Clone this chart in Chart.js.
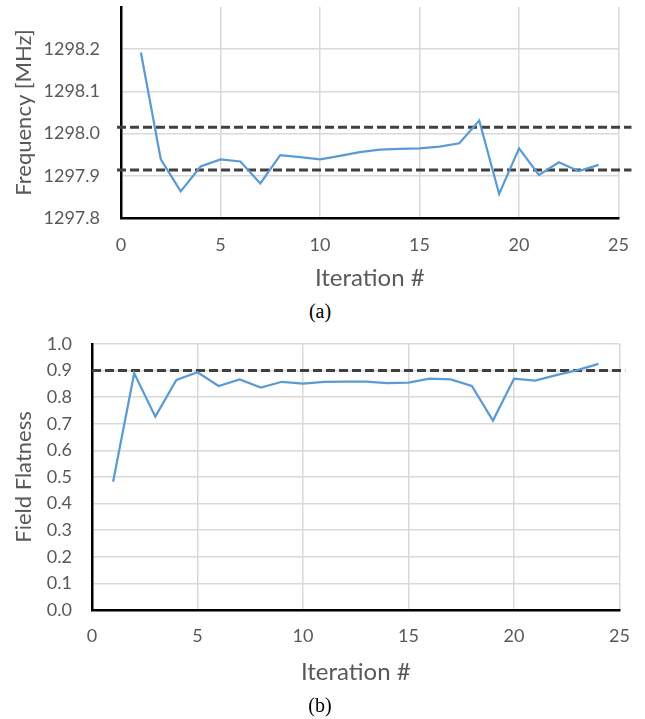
<!DOCTYPE html>
<html>
<head>
<meta charset="utf-8">
<script src="https://cdn.jsdelivr.net/npm/chart.js@4.4.1/dist/chart.umd.min.js"></script>
<style>
    body { margin: 0; background: #fff; }
    #wrap { position: relative; width: 645px; height: 719px; }
    canvas { position: absolute; left: 0; }
    .caption {
        position: absolute; left: 0; width: 640px; text-align: center;
        font-family: "Liberation Serif", "Times New Roman", serif;
        font-size: 20px; color: #000;
    }
</style>
</head>
<body>
<div id="wrap">
    <canvas id="frequency-chart" width="645" height="300" style="top:0"></canvas>
    <div class="caption" style="top:300px">(a)</div>
    <canvas id="flatness-chart" width="645" height="389" style="top:330px"></canvas>
    <div class="caption" style="top:694px">(b)</div>
</div>
<script>
// Iteration numbers (x axis)
const iterations = [1, 2, 3, 4, 5, 6, 7, 8, 9, 10, 11, 12, 13, 14, 15, 16, 17, 18, 19, 20, 21, 22, 23, 24];

// (a) frequency per iteration, MHz
const frequencyMHz = [1298.192, 1297.939, 1297.863, 1297.922, 1297.939, 1297.934, 1297.882, 1297.949,
    1297.944, 1297.939, 1297.947, 1297.956, 1297.962, 1297.964, 1297.965, 1297.969, 1297.977, 1298.031,
    1297.857, 1297.965, 1297.902, 1297.932, 1297.911, 1297.926];

// (b) field flatness per iteration
const fieldFlatness = [0.482, 0.890, 0.727, 0.865, 0.894, 0.842, 0.867, 0.836, 0.858, 0.851, 0.858, 0.859,
    0.859, 0.853, 0.855, 0.870, 0.867, 0.842, 0.712, 0.870, 0.862, 0.883, 0.902, 0.925];

// dashed limit lines and how far along x they run
const frequencyLimits = [1298.015, 1297.914];
const frequencyLimitSpan = [-0.2, 25.65];
const flatnessLimit = 0.9;
const flatnessLimitSpan = [0, 25.27];

const TEXT = "#595959";
const GRID = "#d9d9d9";
const BLUE = "#5b9bd5";
const DASH = "#404040";

Chart.defaults.font.family = "Lato, 'Open Sans', sans-serif";
Chart.defaults.color = TEXT;

// force the axis boxes to fixed sizes so the plot areas line up with the picture
function fixedBox(size) {
    return function(scale) {
        if (scale.isHorizontal()) {
            scale.height = size;
        } else {
            scale.width = size;
            scale.paddingTop = 0;
        }
    };
}

function limitLine(value, span) {
    return {
        data: span.map(x => ({ x: x, y: value })),
        borderColor: DASH,
        borderWidth: 3,
        borderDash: [9, 4],
        pointRadius: 0,
        clip: false,
        order: 2
    };
}

function seriesLine(values) {
    return {
        data: iterations.map((it, i) => ({ x: it, y: values[i] })),
        borderColor: BLUE,
        borderWidth: 2.25,
        pointRadius: 0,
        tension: 0,
        order: 1
    };
}

function xAxis(height, tickPad, titlePad) {
    return {
        type: "linear",
        min: 0,
        max: 25,
        afterFit: fixedBox(height),
        ticks: { stepSize: 5, padding: tickPad, font: { size: 18 }, color: TEXT },
        grid: { color: GRID, lineWidth: 1.5, drawTicks: false },
        border: { display: true, color: "#000", width: 2.5 },
        title: {
            display: true,
            text: "Iteration #",
            color: TEXT,
            font: { size: 24 },
            padding: { top: 0, bottom: titlePad }
        }
    };
}

// (a) Frequency
new Chart(document.getElementById("frequency-chart"), {
    type: "line",
    data: {
        datasets: [
            seriesLine(frequencyMHz),
            limitLine(frequencyLimits[0], frequencyLimitSpan),
            limitLine(frequencyLimits[1], frequencyLimitSpan)
        ]
    },
    options: {
        responsive: false,
        animation: false,
        layout: { padding: { top: 7, right: 20, left: 0, bottom: 0 } },
        plugins: { legend: { display: false }, tooltip: { enabled: false } },
        scales: {
            x: xAxis(82, 16, 7),
            y: {
                min: 1297.8,
                max: 1298.3,
                afterFit: fixedBox(121),
                ticks: {
                    stepSize: 0.1,
                    padding: 21,
                    font: { size: 18 },
                    color: TEXT,
                    callback: v => v > 1298.25 ? "" : v.toFixed(1)
                },
                grid: {
                    drawTicks: false,
                    lineWidth: 1.5,
                    color: ctx => (ctx.tick && ctx.tick.value > 1298.25) ? "rgba(0,0,0,0)" : GRID
                },
                border: { display: true, color: "#000", width: 2.5 },
                title: {
                    display: true,
                    text: "Frequency [MHz]",
                    color: TEXT,
                    font: { size: 22 },
                    padding: { top: 11, bottom: 0 }
                }
            }
        }
    }
});

// (b) Field flatness
new Chart(document.getElementById("flatness-chart"), {
    type: "line",
    data: {
        datasets: [
            seriesLine(fieldFlatness),
            limitLine(flatnessLimit, flatnessLimitSpan)
        ]
    },
    options: {
        responsive: false,
        animation: false,
        layout: { padding: { top: 14, right: 21, left: 0, bottom: 0 } },
        plugins: { legend: { display: false }, tooltip: { enabled: false } },
        scales: {
            x: xAxis(109, 15, 32),
            y: {
                min: 0,
                max: 1,
                afterFit: fixedBox(92),
                ticks: {
                    stepSize: 0.1,
                    padding: 20,
                    font: { size: 18 },
                    color: TEXT,
                    callback: v => v.toFixed(1)
                },
                grid: { drawTicks: false, lineWidth: 1.5, color: GRID },
                border: { display: true, color: "#000", width: 2.5 },
                title: {
                    display: true,
                    text: "Field Flatness",
                    color: TEXT,
                    font: { size: 22 },
                    padding: { top: 11, bottom: 0 }
                }
            }
        }
    }
});
</script>
</body>
</html>
